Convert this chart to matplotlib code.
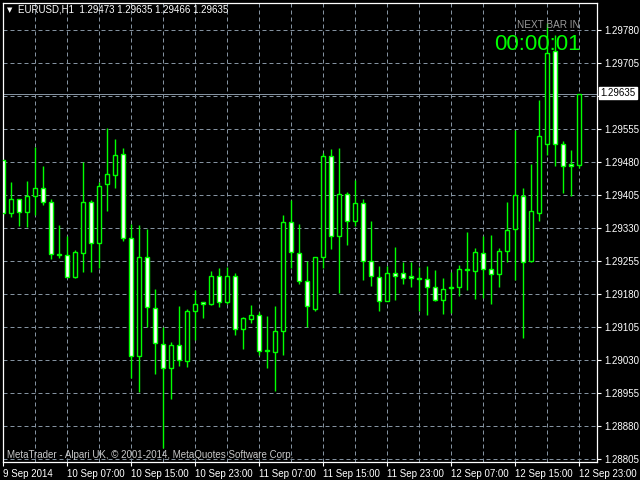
import matplotlib
matplotlib.use("Agg")
import matplotlib.pyplot as plt
import numpy as np

# EURUSD H1, 9 Sep 2014 23:00 .. 12 Sep 2014 23:00 (73 bars)
opens = [1.29485, 1.29364, 1.29395, 1.29367, 1.29402, 1.29422, 1.29388, 1.29272, 1.29268, 1.29219,
         1.29274, 1.29388, 1.29297, 1.29429, 1.29450, 1.29499, 1.29308, 1.29038, 1.29263, 1.29148,
         1.29066, 1.29011, 1.29063, 1.29027, 1.29141, 1.29161, 1.29157, 1.29222, 1.29161, 1.29222,
         1.29100, 1.29123, 1.29132, 1.29050, 1.29048, 1.29095, 1.29343, 1.29273, 1.29209, 1.29147,
         1.29263, 1.29493, 1.29311, 1.29407, 1.29347, 1.29386, 1.29254, 1.29218, 1.29165, 1.29227,
         1.29227, 1.29220, 1.29216, 1.29213, 1.29197, 1.29166, 1.29193, 1.29197, 1.29234, 1.29232,
         1.29273, 1.29236, 1.29225, 1.29277, 1.29327, 1.29402, 1.29254, 1.29363, 1.29520, 1.29732,
         1.29520, 1.29475, 1.29473]
highs = [1.29487, 1.29435, 1.29396, 1.29437, 1.29515, 1.29471, 1.29397, 1.29337, 1.29312, 1.29280,
         1.29479, 1.29394, 1.29435, 1.29557, 1.29532, 1.29512, 1.29338, 1.29337, 1.29328, 1.29191,
         1.29106, 1.29071, 1.29153, 1.29146, 1.29188, 1.29161, 1.29232, 1.29239, 1.29242, 1.29228,
         1.29128, 1.29156, 1.29140, 1.29130, 1.29153, 1.29359, 1.29393, 1.29338, 1.29254, 1.29264,
         1.29501, 1.29510, 1.29512, 1.29411, 1.29438, 1.29397, 1.29346, 1.29244, 1.29244, 1.29287,
         1.29252, 1.29252, 1.29242, 1.29243, 1.29234, 1.29216, 1.29229, 1.29245, 1.29322, 1.29284,
         1.29311, 1.29314, 1.29285, 1.29389, 1.29552, 1.29420, 1.29475, 1.29620, 1.29795, 1.29769,
         1.29527, 1.29507, 1.29635]
lows = [1.29357, 1.29356, 1.29335, 1.29333, 1.29360, 1.29383, 1.29260, 1.29262, 1.29218, 1.29217,
        1.29231, 1.29231, 1.29238, 1.29369, 1.29422, 1.29301, 1.28990, 1.28957, 1.29106, 1.28999,
        1.28830, 1.28941, 1.29017, 1.29015, 1.29076, 1.29126, 1.29156, 1.29151, 1.29157, 1.29087,
        1.29056, 1.29115, 1.29041, 1.29012, 1.28960, 1.29041, 1.29238, 1.29202, 1.29106, 1.29142,
        1.29238, 1.29283, 1.29183, 1.29292, 1.29335, 1.29211, 1.29199, 1.29142, 1.29164, 1.29166,
        1.29203, 1.29197, 1.29142, 1.29133, 1.29165, 1.29135, 1.29137, 1.29175, 1.29188, 1.29168,
        1.29170, 1.29157, 1.29195, 1.29252, 1.29211, 1.29079, 1.29253, 1.29345, 1.29497, 1.29470,
        1.29409, 1.29402, 1.29466]
closes = [1.29364, 1.29395, 1.29366, 1.29403, 1.29422, 1.29388, 1.29272, 1.29268, 1.29219, 1.29275,
          1.29388, 1.29297, 1.29425, 1.29452, 1.29497, 1.29308, 1.29038, 1.29263, 1.29150, 1.29068,
          1.29011, 1.29063, 1.29029, 1.29141, 1.29157, 1.29157, 1.29220, 1.29161, 1.29222, 1.29100,
          1.29125, 1.29132, 1.29050, 1.29052, 1.29095, 1.29343, 1.29275, 1.29209, 1.29152, 1.29263,
          1.29493, 1.29311, 1.29407, 1.29347, 1.29386, 1.29254, 1.29220, 1.29163, 1.29227, 1.29222,
          1.29216, 1.29216, 1.29213, 1.29197, 1.29166, 1.29191, 1.29197, 1.29236, 1.29236, 1.29275,
          1.29236, 1.29225, 1.29277, 1.29325, 1.29404, 1.29252, 1.29368, 1.29538, 1.29727, 1.29522,
          1.29470, 1.29470, 1.29635]

time_labels = ['9 Sep 2014', '10 Sep 07:00', '10 Sep 15:00', '10 Sep 23:00', '11 Sep 07:00',
               '11 Sep 15:00', '11 Sep 23:00', '12 Sep 07:00', '12 Sep 15:00', '12 Sep 23:00']
price_ticks = [1.28805, 1.28880, 1.28955, 1.29030, 1.29105, 1.29180, 1.29255, 1.29330,
               1.29405, 1.29480, 1.29555, 1.29630, 1.29705, 1.29780]
last_price = 1.29635
header = "EURUSD,H1  1.29473 1.29635 1.29466 1.29635"
timer_text = "00:00:01"

LIME = '#00ff00'
GRID = '#8492a0'
FONT = 'Liberation Sans'
FS = 7
LW = 0.72   # one pixel at 100 dpi
CLW = 1.0   # candle lines a bit heavier so the lime stays bright

W, H = 640, 480
fig = plt.figure(figsize=(6.4, 4.8), dpi=100, facecolor='black')
left, right, top, bottom = 2.5, 597, 2.5, 462
ax = fig.add_axes([left / W, 1 - bottom / H, (right - left) / W, (bottom - top) / H])
ax.set_facecolor('black')

n = len(opens)
x = np.arange(n)
o = np.array(opens); c = np.array(closes)
hi = np.array(highs); lo = np.array(lows)

# 8 px per bar, first bar centre 0.5 px right of frame
ax.set_xlim((left - 3) / 8, (right - 3) / 8)
px = 0.00075 / 33
ax.set_ylim(1.29480 - (bottom - 162) * px, 1.29480 + (162 - top) * px)

# grid
for p in price_ticks:
    ax.axhline(p, color=GRID, lw=LW, ls=(0, (4, 3)), zorder=0, snap=True)
for gx in range(4, n, 4):
    ax.axvline(gx, color=GRID, lw=LW, ls=(0, (4, 3)), zorder=0, snap=True)

# candles
ax.vlines(x, lo, hi, color=LIME, lw=CLW, zorder=2)
up = c >= o
body_lo = np.minimum(o, c)
body_h = np.abs(c - o)
ax.bar(x[up], body_h[up], bottom=body_lo[up], width=0.5, color='black',
       edgecolor=LIME, linewidth=CLW, zorder=3)
ax.bar(x[~up], body_h[~up], bottom=body_lo[~up], width=0.5, color='white',
       edgecolor=LIME, linewidth=CLW, zorder=3)

# current price line
ax.axhline(last_price, color=GRID, lw=LW, zorder=1, snap=True)

for s in ax.spines.values():
    s.set_color('white')
    s.set_linewidth(0.9)

ax.yaxis.tick_right()
ax.set_yticks(price_ticks)
ax.set_yticklabels(['' if abs(p - 1.29630) < 1e-7 else f'{p:.5f}' for p in price_ticks])
ax.set_xticks(range(0, n, 8))
ax.set_xticklabels(time_labels, ha='left')
ax.tick_params(axis='both', colors='white', length=3, width=0.8, labelsize=FS, pad=2)
for lab in ax.get_xticklabels() + ax.get_yticklabels():
    lab.set_fontfamily(FONT)
    lab.set_color('white')

# price box on the right axis
fig.text(600 / W, 1 - 93 / H, f'{last_price:.5f}', color='black', fontsize=FS, family=FONT,
         va='center', ha='left',
         bbox=dict(boxstyle='square,pad=0.15', fc='white', ec='white'))

# header
fig.text(7 / W, 1 - 10 / H, '\u25bc', color='white', fontsize=5, va='center', ha='left',
         family='DejaVu Sans')
fig.text(18 / W, 1 - 10 / H, header, color='white', fontsize=FS, family=FONT,
         va='center', ha='left')

# timer
fig.text(580 / W, 1 - 25 / H, 'NEXT BAR IN', color='#9a9a9a', fontsize=7.2, family=FONT,
         va='center', ha='right')
fig.text(581 / W, 1 - 45 / H, timer_text, color=LIME, fontsize=16, family=FONT,
         va='center', ha='right')

# watermark
fig.text(7 / W, 1 - 455 / H, 'MetaTrader - Alpari UK, \u00a9 2001-2014, MetaQuotes Software Corp.',
         color='#c8c8c8', fontsize=FS, family=FONT, va='center', ha='left')

fig.savefig('out.png', dpi=100, facecolor='black')
